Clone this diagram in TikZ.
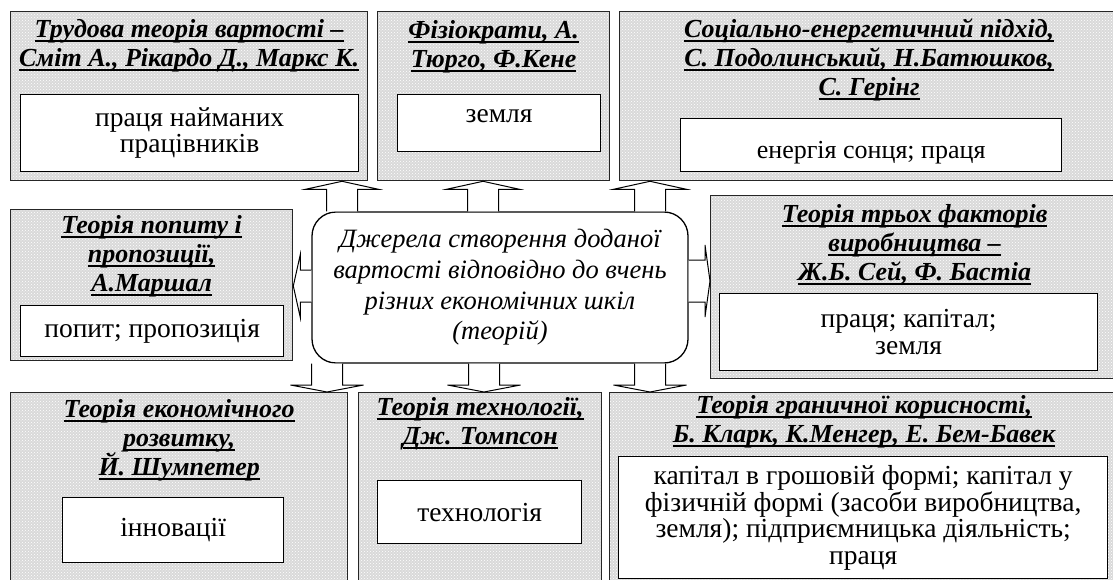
\documentclass[tikz,border=0pt]{standalone}
\usepackage{fontspec}
\setmainfont{Liberation Serif}
\usetikzlibrary{calc,positioning,patterns}
\newsavebox{\hdlbox}
\newcommand{\hdl}[1]{\sbox{\hdlbox}{#1}\rlap{\rule[-4.8pt]{\wd\hdlbox}{1.8pt}}\usebox{\hdlbox}}
\newcommand{\hdtop}{\rule{0pt}{22pt}}
\tikzset{outer/.style={draw=black!85, line width=1.3pt, preaction={fill=black!15}, pattern=crosshatch dots, pattern color=white, anchor=north west, inner sep=0pt}}
\tikzstyle{inbox}=[draw, fill=white, line width=1.3pt, anchor=north west, align=center, inner sep=1pt, font=\fontsize{27.5}{26.5}\selectfont]
\tikzstyle{head}=[align=center, inner sep=0pt, font=\fontsize{26}{29}\selectfont\bfseries\itshape]
\tikzstyle{blk}=[draw, fill=white, line width=1pt, line join=miter]
% block arrow: from, to, half shaft, half head, head length
\newcommand{\blockarr}[5]{%
  \coordinate (ba-s) at (#1);
  \coordinate (ba-e) at (#2);
  \coordinate (ba-n) at ($(ba-e)!#5!(ba-s)$);
  \draw[blk] ($(ba-s)!#3!90:(ba-e)$) -- ($(ba-n)!#3!90:(ba-e)$) -- ($(ba-n)!#4!90:(ba-e)$)
    -- (ba-e) -- ($(ba-n)!#4!-90:(ba-e)$) -- ($(ba-n)!#3!-90:(ba-e)$) -- ($(ba-s)!#3!-90:(ba-e)$);}

\begin{document}
\begin{tikzpicture}[x=1pt, y=-1pt]
\useasboundingbox (0,0) rectangle (1113,580);
\clip (0,0) rectangle (1113,580);
% top row
\node[outer, minimum width=357, minimum height=169] (t1) at (10,11) {};
\node[outer, minimum width=232, minimum height=169] (t2) at (377,11) {};
\node[outer, minimum width=499, minimum height=169] (t3) at (619,11) {};
\node[head, below=4pt of t1.north] (t1h) {\hdtop\hdl{Трудова теорія вартості –}\\\hdl{Сміт А., Рікардо Д., Маркс К.}};
\node[head, below=5pt of t2.north] (t2h) {\hdtop\hdl{Фізіократи, А.}\\\hdl{Тюрго, Ф.Кене}};
\node[head, below=4pt of t3.north] (t3h) {\hdtop\hdl{Соціально-енергетичний підхід,}\\\hdl{С. Подолинський, Н.Батюшков,}\\\hdl{С. Герінг}};
\node[inbox, minimum width=338, minimum height=77] (t1i) at (20,94) {праця найманих\\працівників};
\node[inbox, minimum width=203, minimum height=57, text height=20pt, text depth=21pt] (t2i) at (397,94) {земля};
\node[inbox, minimum width=381, minimum height=53, text height=26pt, text depth=0pt, font=\fontsize{26}{26}\selectfont] (t3i) at (680,118) {енергія сонця; праця};

% middle row
\node[outer, minimum width=282, minimum height=151] (m1) at (10,209) {};
\node[outer, minimum width=408, minimum height=183] (m2) at (710,195) {};
\node[head, below=2pt of m1.north] (m1h) {\hdtop\hdl{Теорія попиту і}\\\hdl{пропозиції,}\\\hdl{А.Маршал}};
\node[head, below=5pt of m2.north] (m2h) {\hdtop\hdl{Теорія трьох факторів}\\\hdl{виробництва –}\\\hdl{Ж.Б. Сей, Ф. Бастіа}};
\node[inbox, minimum width=263, minimum height=51] (m1i) at (20,305) {попит; пропозиція};
\node[inbox, minimum width=378, minimum height=77] (m2i) at (719,293) {праця; капітал;\\земля};
\node[draw, line width=1.3pt, rounded corners=24pt, minimum width=376, minimum height=151, align=center,
  font=\fontsize{26.5}{30.7}\selectfont\itshape] (cen) at (500,287.5)
  {Джерела створення доданої\\вартості відповідно до вчень\\різних економічних шкіл\\(теорій)};

% bottom row
\node[outer, minimum width=337, minimum height=200] (b1) at (10,392) {};
\node[outer, minimum width=243, minimum height=200] (b2) at (358,392) {};
\node[outer, minimum width=509, minimum height=200] (b3) at (609,392) {};
\node[head, below=3pt of b1.north] (b1h) {\hdtop\hdl{Теорія економічного}\\\hdl{розвитку,}\\\hdl{Й. Шумпетер}};
\node[head, below=1pt of b2.north] (b2h) {\hdtop\hdl{Теорія технології,}\\\hdl{Дж. Томпсон}};
\node[head, below=-1pt of b3.north] (b3h) {\hdtop\hdl{Теорія граничної корисності,}\\\hdl{Б. Кларк, К.Менгер, Е. Бем-Бавек}};
\node[inbox, minimum width=221, minimum height=65] (b1i) at (62,497) {інновації};
\node[inbox, minimum width=204, minimum height=63] (b2i) at (377,480) {технологія};
\node[inbox, minimum width=489, minimum height=122] (b3i) at (618,456)
  {капітал в грошовій формі; капітал у\\фізичній формі (засоби виробництва,\\земля); підприємницька діяльність;\\праця};

% arrows
\blockarr{cen.north -| 342,0}{t1.south -| 342,0}{15.5pt}{36.5pt}{8pt}
\blockarr{cen.north -| 483,0}{t2.south -| 483,0}{15.5pt}{36.5pt}{8pt}
\blockarr{cen.north -| 650,0}{t3.south -| 650,0}{15.5pt}{36.5pt}{8pt}
\blockarr{cen.west |- 0,286}{m1.east |- 0,286}{16pt}{31.5pt}{7pt}
\blockarr{cen.east |- 0,281}{m2.west |- 0,281}{21pt}{36pt}{5pt}
\blockarr{cen.south -| 327,0}{b1.north -| 327,0}{15.5pt}{36.5pt}{7pt}
\blockarr{cen.south -| 484,0}{b2.north -| 484,0}{15.5pt}{36.5pt}{7pt}
\blockarr{cen.south -| 650,0}{b3.north -| 650,0}{15.5pt}{36.5pt}{7pt}
\end{tikzpicture}
\end{document}
